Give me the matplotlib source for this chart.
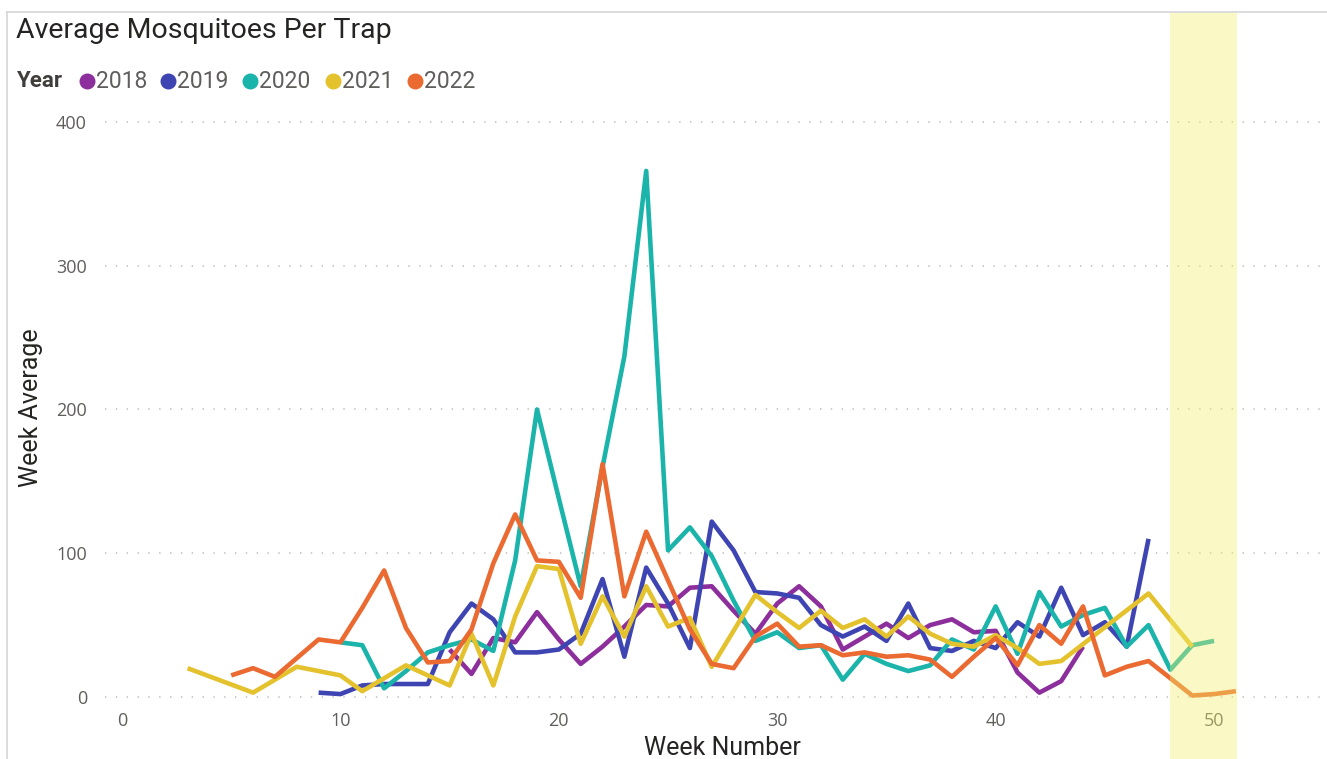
import matplotlib
matplotlib.use("Agg")
import matplotlib.pyplot as plt
from matplotlib.patches import Rectangle
from matplotlib.lines import Line2D
from matplotlib.transforms import blended_transform_factory

# ---------------- data ----------------
years = ["2018", "2019", "2020", "2021", "2022"]

weeks_2018 = list(range(15, 45))
vals_2018 = [33, 16, 41, 38, 59, 40, 23, 35, 49, 64, 63, 76, 77, 60, 44,
             65, 77, 63, 33, 42, 51, 41, 50, 54, 45, 46, 17, 3, 11, 35]

weeks_2019 = list(range(9, 48))
vals_2019 = [3, 2, 8, 9, 9, 9, 45, 65, 54, 31, 31, 33, 44, 82, 28, 90, 65, 34,
             122, 102, 73, 72, 69, 50, 42, 49, 39, 65, 34, 32, 39, 34, 52, 42,
             76, 43, 52, 35, 110]

weeks_2020 = list(range(10, 51))
vals_2020 = [38, 36, 6, 18, 31, 36, 40, 32, 95, 200, 138, 77, 160, 237, 366,
             102, 118, 98, 67, 39, 45, 34, 36, 12, 30, 23, 18, 22, 40, 33, 63,
             30, 73, 49, 57, 62, 35, 50, 19, 36, 39]

weeks_2021 = [3, 6, 8, 10, 11, 13, 15, 16, 17, 18, 19, 20, 21, 22, 23, 24, 25,
              26, 27, 28, 29, 30, 31, 32, 33, 34, 35, 36, 37, 38, 39, 40, 41,
              42, 43, 47, 49]
vals_2021 = [20, 3, 21, 15, 4, 22, 8, 44, 8, 56, 91, 89, 37, 70, 42, 77, 49,
             55, 21, 46, 71, 59, 48, 60, 48, 54, 42, 56, 44, 37, 35, 43, 34,
             23, 25, 72, 35]

weeks_2022 = [5, 6, 7] + list(range(9, 52))
vals_2022 = [15, 20, 14, 40, 38, 62, 88, 48, 24, 25, 47, 93, 127, 95, 94, 69,
             162, 70, 115, 81, 47, 23, 20, 42, 51, 35, 36, 29, 31, 28, 29, 26,
             14, 28, 41, 22, 50, 37, 63, 15, 21, 25, 13, 1, 2, 4]

x_ticks = [0, 10, 20, 30, 40, 50]
y_ticks = [0, 100, 200, 300, 400]

series = [(weeks_2018, vals_2018), (weeks_2019, vals_2019),
          (weeks_2020, vals_2020), (weeks_2021, vals_2021),
          (weeks_2022, vals_2022)]

# ---------------- style ----------------
colors = ["#8C2E9C", "#3E45B3", "#1BB4AA", "#E4C22E", "#EA6A31"]
W, H = 1327, 759
TXT_DARK = "#252423"
TXT_GRAY = "#605E5C"
TITLE_FONT = ["Roboto", "DejaVu Sans"]
BODY_FONT = ["Open Sans", "DejaVu Sans"]

plt.rcParams["lines.scale_dashes"] = False

fig = plt.figure(figsize=(W / 100, H / 100), dpi=100)
fig.patch.set_facecolor("white")


def fx(px):
    return px / W


def fy(py):
    return 1 - py / H


ax = fig.add_axes([fx(105), fy(705), fx(1320) - fx(105), fy(115) - fy(705)])
ax.set_xlim(-0.78, 54.85)
ax.set_ylim(-5.6, 404.9)

for (wk, vv), c in zip(series, colors):
    ax.plot(wk, vv, color=c, lw=3.3, solid_joinstyle="round",
            solid_capstyle="butt", zorder=3)

ax.set_xticks(x_ticks)
ax.set_yticks(y_ticks)
ax.set_xticklabels([str(t) for t in x_ticks], fontfamily=BODY_FONT,
                   fontsize=13, color=TXT_GRAY)
ax.set_yticklabels([str(t) for t in y_ticks], fontfamily=BODY_FONT,
                   fontsize=13, color=TXT_GRAY)
ax.tick_params(axis="both", length=0)
ax.tick_params(axis="y", pad=13)
ax.tick_params(axis="x", pad=5)
ax.grid(axis="y", color="#C8C6C4", lw=1.3, linestyle=(0, (1.0, 6.8)))
ax.grid(axis="x", visible=False)
for s in ax.spines.values():
    s.set_visible(False)
ax.set_axisbelow(True)

# highlight band (overlay)
trans = blended_transform_factory(ax.transData, fig.transFigure)
band = Rectangle((48.0, 0), 3.05, fy(13), transform=trans,
                 facecolor="#F3EE6C", alpha=0.4, edgecolor="none",
                 clip_on=False, zorder=10)
fig.add_artist(band)

# frame lines of the visual
fig.add_artist(Line2D([fx(7), 1], [fy(12), fy(12)], color="#D6D6D6", lw=1.2))
fig.add_artist(Line2D([fx(7), fx(7)], [0, fy(12)], color="#D6D6D6", lw=1.2))

# title
fig.text(fx(16), fy(31), "Average Mosquitoes Per Trap", fontfamily=TITLE_FONT,
         fontsize=20.5, color=TXT_DARK, va="center", ha="left")

# legend
fig.text(fx(17), fy(81), "Year", fontfamily=TITLE_FONT, fontsize=16,
         fontweight="bold", color="#403E3C", va="center", ha="left")
leg_dot_x = [87, 168, 250, 333, 415]
for lx, c, yr in zip(leg_dot_x, colors, years):
    fig.add_artist(Line2D([fx(lx)], [fy(81)], marker="o", markersize=11.5,
                          color=c, markeredgewidth=0, linestyle="none"))
    fig.text(fx(lx + 9), fy(81), yr, fontfamily=TITLE_FONT, fontsize=16.5,
             color=TXT_GRAY, va="center", ha="left")

# axis titles
fig.text(fx(722), fy(748), "Week Number", fontfamily=TITLE_FONT, fontsize=18,
         color=TXT_DARK, va="center", ha="center")
fig.text(fx(31), fy(408), "Week Average", fontfamily=TITLE_FONT, fontsize=18,
         color=TXT_DARK, va="center", ha="center", rotation=90)

fig.savefig("out.png", dpi=100, facecolor="white")
